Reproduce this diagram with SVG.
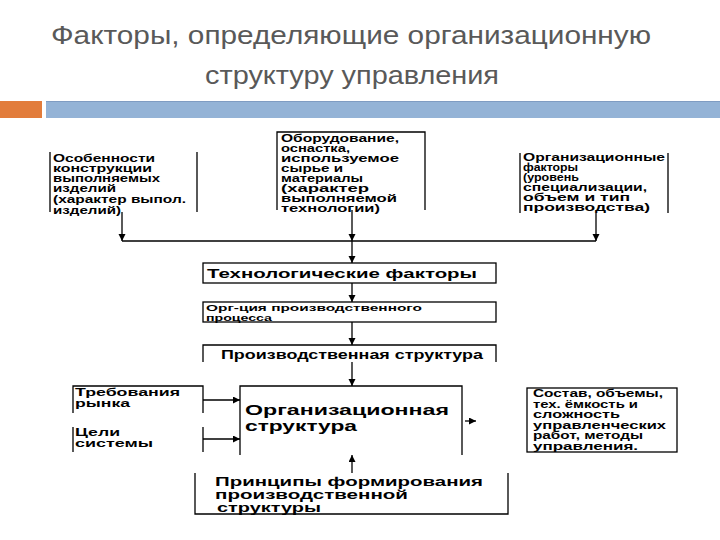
<svg xmlns="http://www.w3.org/2000/svg" width="720" height="540" viewBox="0 0 720 540">
<style>
  .title { font-family: "Liberation Sans", Arial, sans-serif; font-size: 26px; fill: #595959; }
  .t { font-family: "Liberation Sans", Arial, sans-serif; font-weight: bold; fill: #000; }
  .b { stroke: #000; stroke-width: 1.3; fill: none; }
  .c { stroke: #000; stroke-width: 1.3; fill: none; }
</style>
<defs>
  <marker id="ah" markerUnits="userSpaceOnUse" markerWidth="8" markerHeight="8" refX="7" refY="3.5" orient="auto">
    <path d="M0,0 L7,3.5 L0,7 z" fill="#000"/>
  </marker>
</defs>
<rect width="720" height="540" fill="#fff"/>

<g id="title">
  <text class="title" x="351" y="44" text-anchor="middle" textLength="600" lengthAdjust="spacingAndGlyphs">Факторы, определяющие организационную</text>
  <text class="title" x="352" y="84" text-anchor="middle" textLength="294" lengthAdjust="spacingAndGlyphs">структуру управления</text>
</g>

<g id="bars">
  <rect x="0" y="101" width="42" height="17" fill="#e27c3b"/>
  <rect x="46" y="101" width="674" height="17" fill="#94b3d6"/>
  <line x1="46" y1="101.5" x2="720" y2="101.5" stroke="#7f9cc2" stroke-width="1"/>
</g>

<g id="connectors">
  <path class="c" d="M122,212 V241" marker-end="url(#ah)"/>
  <path class="c" d="M596,213 V241" marker-end="url(#ah)"/>
  <path class="c" d="M352,210 V241" marker-end="url(#ah)"/>
  <path class="c" d="M122,241 H596"/>
  <path class="c" d="M352,241 V263" marker-end="url(#ah)"/>
  <path class="c" d="M352,283 V302" marker-end="url(#ah)"/>
  <path class="c" d="M352,322 V345" marker-end="url(#ah)"/>
  <path class="c" d="M352,362 V386" marker-end="url(#ah)"/>
  <path class="c" d="M203,400 H240" marker-end="url(#ah)"/>
  <path class="c" d="M203,439 H240" marker-end="url(#ah)"/>
  <path class="c" d="M352,473 V455" marker-end="url(#ah)"/>
  <path class="c" d="M465,421 H476" marker-end="url(#ah)"/>
</g>

<g id="node-features">
  <path class="b" d="M50,152 V212 M197,152 V212"/>
  <text class="t" font-size="10" x="53" y="162" textLength="102" lengthAdjust="spacingAndGlyphs">Особенности</text>
  <text class="t" font-size="10" x="53" y="172" textLength="99" lengthAdjust="spacingAndGlyphs">конструкции</text>
  <text class="t" font-size="10" x="53" y="182" textLength="107" lengthAdjust="spacingAndGlyphs">выполняемых</text>
  <text class="t" font-size="10" x="53" y="192" textLength="63" lengthAdjust="spacingAndGlyphs">изделий</text>
  <text class="t" font-size="11" x="53" y="203" textLength="133" lengthAdjust="spacingAndGlyphs">(характер выпол.</text>
  <text class="t" font-size="11" x="53" y="214" textLength="68" lengthAdjust="spacingAndGlyphs">изделий)</text>
</g>

<g id="node-equipment">
  <path class="b" d="M277,210 V132 H425 V210"/>
  <text class="t" font-size="10" x="281" y="142" textLength="118" lengthAdjust="spacingAndGlyphs">Оборудование,</text>
  <text class="t" font-size="10" x="281" y="152" textLength="69" lengthAdjust="spacingAndGlyphs">оснастка,</text>
  <text class="t" font-size="10" x="281" y="162" textLength="118" lengthAdjust="spacingAndGlyphs">используемое</text>
  <text class="t" font-size="10" x="281" y="172" textLength="62" lengthAdjust="spacingAndGlyphs">сырье и</text>
  <text class="t" font-size="10" x="281" y="182" textLength="82" lengthAdjust="spacingAndGlyphs">материалы</text>
  <text class="t" font-size="10" x="281" y="192" textLength="88" lengthAdjust="spacingAndGlyphs">(характер</text>
  <text class="t" font-size="10" x="281" y="202" textLength="116" lengthAdjust="spacingAndGlyphs">выполняемой</text>
  <text class="t" font-size="10" x="281" y="212" textLength="99" lengthAdjust="spacingAndGlyphs">технологии)</text>
</g>

<g id="node-org-factors">
  <path class="b" d="M520,153 V213 M668,153 V213"/>
  <text class="t" font-size="10" x="523" y="161" textLength="142" lengthAdjust="spacingAndGlyphs">Организационные</text>
  <text class="t" font-size="10" x="523" y="171" textLength="55" lengthAdjust="spacingAndGlyphs">факторы</text>
  <text class="t" font-size="10" x="523" y="181" textLength="56" lengthAdjust="spacingAndGlyphs">(уровень</text>
  <text class="t" font-size="10" x="523" y="191" textLength="124" lengthAdjust="spacingAndGlyphs">специализации,</text>
  <text class="t" font-size="10" x="523" y="201" textLength="107" lengthAdjust="spacingAndGlyphs">объем и тип</text>
  <text class="t" font-size="10" x="523" y="211" textLength="127" lengthAdjust="spacingAndGlyphs">производства)</text>
</g>

<g id="node-tech">
  <rect class="b" x="203" y="263" width="293" height="20"/>
  <text class="t" font-size="13" x="207" y="278" textLength="270" lengthAdjust="spacingAndGlyphs">Технологические факторы</text>
</g>

<g id="node-process">
  <rect class="b" x="203" y="302" width="293" height="20"/>
  <text class="t" font-size="9" x="206" y="311" textLength="216" lengthAdjust="spacingAndGlyphs">Орг-ция производственного</text>
  <text class="t" font-size="9" x="206" y="321" textLength="66" lengthAdjust="spacingAndGlyphs">процесса</text>
</g>

<g id="node-prod-structure">
  <path class="b" d="M203,362 V345 H496 V362"/>
  <text class="t" font-size="12.5" x="221" y="359" textLength="262" lengthAdjust="spacingAndGlyphs">Производственная структура</text>
</g>

<g id="node-market">
  <path class="b" d="M73,413 V386 H203 V413"/>
  <text class="t" font-size="10.5" x="75" y="396" textLength="105" lengthAdjust="spacingAndGlyphs">Требования</text>
  <text class="t" font-size="10.5" x="75" y="407" textLength="55" lengthAdjust="spacingAndGlyphs">рынка</text>
</g>

<g id="node-goals">
  <path class="b" d="M73,427 V452 M203,427 V452"/>
  <text class="t" font-size="11" x="75" y="436" textLength="45" lengthAdjust="spacingAndGlyphs">Цели</text>
  <text class="t" font-size="11" x="75" y="447" textLength="78" lengthAdjust="spacingAndGlyphs">системы</text>
</g>

<g id="node-org-structure">
  <path class="b" d="M240,455 V386 H462 V455"/>
  <text class="t" font-size="15.5" x="245" y="415" textLength="204" lengthAdjust="spacingAndGlyphs">Организационная</text>
  <text class="t" font-size="15.5" x="245" y="431" textLength="112" lengthAdjust="spacingAndGlyphs">структура</text>
</g>

<g id="node-composition">
  <rect class="b" x="527" y="388" width="150" height="64"/>
  <text class="t" font-size="10" x="533" y="397" textLength="130" lengthAdjust="spacingAndGlyphs">Состав, объемы,</text>
  <text class="t" font-size="10" x="533" y="407.5" textLength="105" lengthAdjust="spacingAndGlyphs">тех. ёмкость и</text>
  <text class="t" font-size="10" x="533" y="418" textLength="87" lengthAdjust="spacingAndGlyphs">сложность</text>
  <text class="t" font-size="10" x="533" y="428.5" textLength="133" lengthAdjust="spacingAndGlyphs">управленческих</text>
  <text class="t" font-size="10" x="533" y="439" textLength="110" lengthAdjust="spacingAndGlyphs">работ, методы</text>
  <text class="t" font-size="10" x="533" y="449.5" textLength="105" lengthAdjust="spacingAndGlyphs">управления.</text>
</g>

<g id="node-principles">
  <path class="b" d="M195,473 V514 H508 V473"/>
  <text class="t" font-size="12.5" x="215" y="486" textLength="268" lengthAdjust="spacingAndGlyphs">Принципы формирования</text>
  <text class="t" font-size="12.5" x="215" y="499" textLength="193" lengthAdjust="spacingAndGlyphs">производственной</text>
  <text class="t" font-size="12.5" x="217" y="512" textLength="104" lengthAdjust="spacingAndGlyphs">структуры</text>
</g>
</svg>
